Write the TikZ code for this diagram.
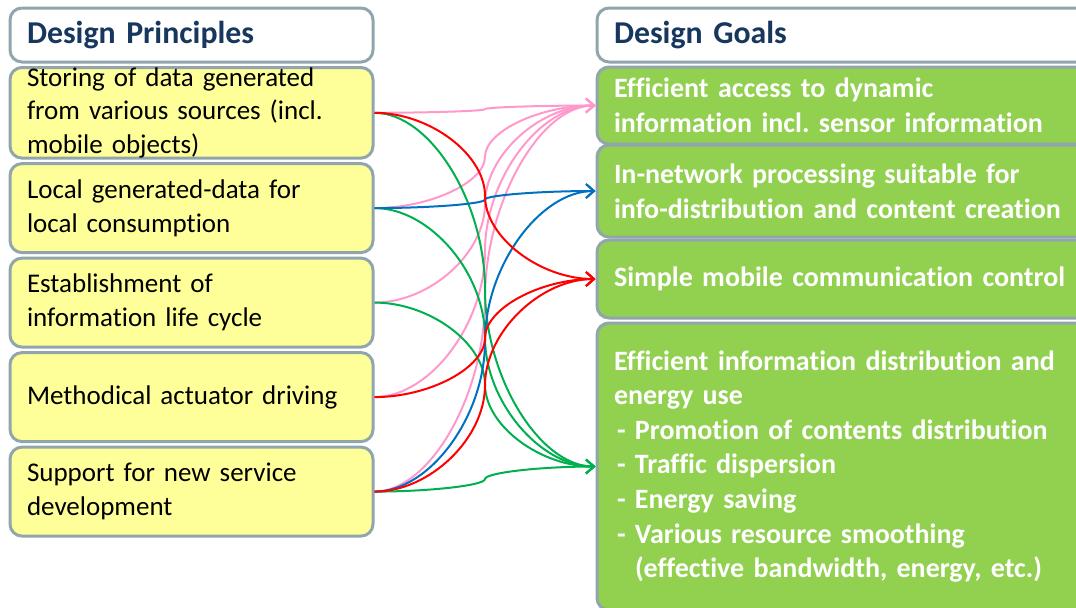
\documentclass[tikz,border=0pt]{standalone}
\usepackage{fontspec}
\setmainfont{Carlito}[Ligatures=NoCommon]
\usepackage{tikz}
\usetikzlibrary{positioning}
\usetikzlibrary{arrows.meta, calc}
\definecolor{boxGray}{RGB}{145,165,172}
\definecolor{prinYellow}{RGB}{255,255,153}
\definecolor{goalGreen}{RGB}{146,208,80}
\definecolor{headBlue}{RGB}{23,55,94}
\definecolor{linkPink}{RGB}{255,153,204}
\definecolor{linkRed}{RGB}{255,0,0}
\definecolor{linkGreen}{RGB}{0,176,80}
\definecolor{linkBlue}{RGB}{0,112,192}
\tikzstyle{box} = [draw=boxGray, line width=1.5pt, rounded corners=6pt, inner xsep=8.5pt, inner ysep=0pt, align=left]
\tikzstyle{head} = [box, fill=white, text=headBlue, minimum height=27pt, font=\fontsize{15.9}{19}\selectfont\bfseries]
\tikzstyle{prin} = [box, fill=prinYellow, text width=164.5pt, minimum height=44.5pt, font=\fontsize{13.5}{16.8}\selectfont]
\tikzstyle{goal} = [box, fill=goalGreen, text=white, text width=243pt, font=\fontsize{14}{17.3}\selectfont\bfseries]
\tikzstyle{link} = [line width=1pt, -{Straight Barb[length=4pt,width=7pt]}, to path={let \p1=(\tikztostart), \p2=(\tikztotarget), \p3=($(\p1)!0.5!(\p2)$) in .. controls ({0.75*\x1+0.25*\x2},\y1) and (\x3,{0.75*\y1+0.25*\y2}) .. (\p3) .. controls (\x3,{0.25*\y1+0.75*\y2}) and ({0.25*\x1+0.75*\x2},\y2) .. (\tikztotarget)}]
\newcommand{\goalDash}{\makebox[10.5pt][l]{\hspace{1.5pt}-}}

\begin{document}
\begin{tikzpicture}[x=0.5pt, y=-0.5pt, node distance=1.25pt]
	\useasboundingbox (0,0) rectangle (1076,607);
	\clip (0,0) rectangle (1076,607);
	
	%Principles
	\node [head, text width=164.5pt] (prinHead) at (191.5,35) {Design Principles};
	\node [prin, below=of prinHead] (1stPrin) {Storing of data generated\\from various sources (incl.\\mobile objects)};
	\node [prin, below=of 1stPrin] (2ndPrin) {Local generated-data for\\local consumption};
	\node [prin, below=of 2ndPrin] (3rdPrin) {Establishment of\\information life cycle};
	\node [prin, below=of 3rdPrin] (4thPrin) {Methodical actuator driving};
	\node [prin, below=of 4thPrin] (5thPrin) {Support for new service\\development};
	
	%Goals
	\node [head, text width=243pt] (goalHead) at (857,35) {Design Goals};
	\node [goal, minimum height=38.5pt, below=1pt of goalHead] (1stGoal) {Efficient access to dynamic\\information incl.\ sensor information};
	\node [goal, minimum height=46pt, below=-1pt of 1stGoal] (2ndGoal) {In-network processing suitable for\\info-distribution and content creation};
	\node [goal, minimum height=39pt, below=0pt of 2ndGoal] (3rdGoal) {Simple mobile communication control};
	\node [goal, minimum height=143.5pt, below=1pt of 3rdGoal] (4thGoal) {Efficient information distribution and\\energy use\\\goalDash Promotion of contents distribution\\\goalDash Traffic dispersion\\\goalDash Energy saving\\\goalDash Various resource smoothing\\\hspace*{10.5pt}(effective bandwidth, energy, etc.)};
	
	%Arrows
	\draw [link, linkPink] (1stPrin.east) to (1stGoal.west);
	\draw [link, linkPink] (2ndPrin.east) to (1stGoal.west);
	\draw [link, linkPink] (3rdPrin.east) to (1stGoal.west);
	\draw [link, linkPink] (4thPrin.east) to (1stGoal.west);
	\draw [link, linkPink] (5thPrin.east) to (1stGoal.west);
	
	\draw [link, linkGreen] (1stPrin.east) to (4thGoal.west);
	\draw [link, linkGreen] (2ndPrin.east) to (4thGoal.west);
	\draw [link, linkGreen] (3rdPrin.east) to (4thGoal.west);
	\draw [link, linkGreen] (5thPrin.east) to (4thGoal.west);
	
	\draw [link, linkBlue] (2ndPrin.east) to (2ndGoal.west);
	\draw [link, linkBlue] (5thPrin.east) to (2ndGoal.west);
	
	\draw [link, linkRed] (1stPrin.east) to (3rdGoal.west);
	\draw [link, linkRed] (4thPrin.east) to (3rdGoal.west);
	\draw [link, linkRed] (5thPrin.east) to (3rdGoal.west);
\end{tikzpicture}
\end{document}
